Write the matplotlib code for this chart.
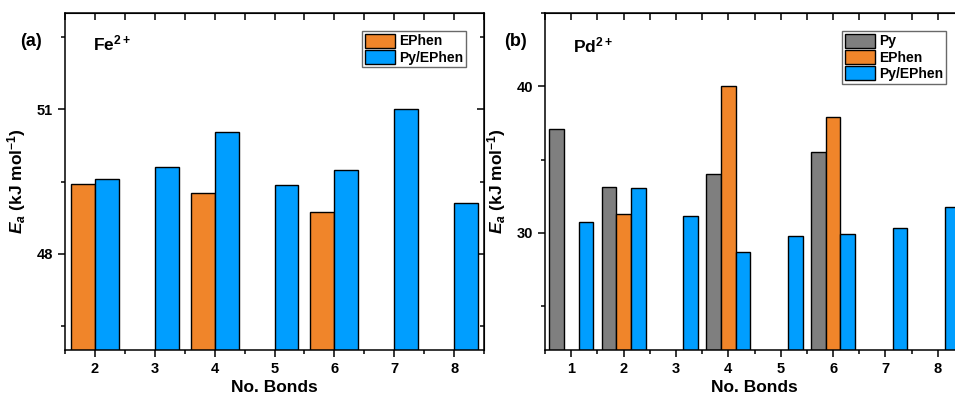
import numpy as np
import matplotlib.pyplot as plt
from matplotlib.ticker import MultipleLocator

plt.rcParams['font.family'] = 'Liberation Sans'
plt.rcParams['font.weight'] = 'bold'
plt.rcParams['axes.labelweight'] = 'bold'
plt.rcParams['mathtext.fontset'] = 'custom'
plt.rcParams['mathtext.rm'] = 'Liberation Sans:bold'
plt.rcParams['mathtext.it'] = 'Liberation Sans:italic:bold'
plt.rcParams['mathtext.bf'] = 'Liberation Sans:bold'

# dati pannello (a) Fe2+
bonds_fe = np.array([2, 3, 4, 5, 6, 7, 8])
ephen_fe = [49.45, np.nan, 49.26, np.nan, 48.87, np.nan, np.nan]
pyephen_fe = [49.56, 49.80, 50.52, 49.42, 49.74, 51.01, 49.06]

# dati pannello (b) Pd2+
bonds_pd = np.array([1, 2, 3, 4, 5, 6, 7, 8])
py_pd = [37.06, 33.1, np.nan, 34.03, np.nan, 35.52, np.nan, np.nan]
ephen_pd = [np.nan, 31.27, np.nan, 40.02, np.nan, 37.92, np.nan, np.nan]
pyephen_pd = [30.77, 33.05, 31.15, 28.69, 29.8, 29.93, 30.36, 31.76]

grigio = '#7f7f7f'
arancio = '#f0852a'
azzurro = '#009eff'

fig = plt.figure(figsize=(9.55, 3.98), dpi=100)
ax1 = fig.add_axes([65/955, 48/398, 419/955, 337/398])
ax2 = fig.add_axes([545/955, 48/398, 419/955, 337/398])


def stile(ax):
    for s in ax.spines.values():
        s.set_linewidth(1.1)
    ax.xaxis.set_major_locator(MultipleLocator(1))
    ax.xaxis.set_minor_locator(MultipleLocator(0.5))
    ax.tick_params(which='both', direction='out', width=1.1, labelsize=10.5)
    ax.tick_params(which='major', length=5)
    ax.tick_params(which='minor', length=3)
    # tacche interne sopra e a destra
    top = ax.secondary_xaxis('top')
    top.xaxis.set_major_locator(MultipleLocator(1))
    top.xaxis.set_minor_locator(MultipleLocator(0.5))
    top.tick_params(which='both', direction='in', labeltop=False, width=1.1)
    top.tick_params(which='major', length=5)
    top.tick_params(which='minor', length=5)
    right = ax.secondary_yaxis('right')
    right.yaxis.set_major_locator(ax.yaxis.get_major_locator())
    right.yaxis.set_minor_locator(ax.yaxis.get_minor_locator())
    right.tick_params(which='both', direction='in', labelright=False, width=1.1)
    right.tick_params(which='major', length=5)
    right.tick_params(which='minor', length=3)
    ax.set_xlabel('No. Bonds', fontsize=12.5, labelpad=3)
    ax.set_ylabel(r'$E_a$ (kJ mol$^{-1}$)', fontsize=12.5, labelpad=6)


# pannello (a)
w = 0.4
ax1.bar(bonds_fe - w/2, ephen_fe, w, color=arancio, edgecolor='black', linewidth=1, label='EPhen')
ax1.bar(bonds_fe + w/2, pyephen_fe, w, color=azzurro, edgecolor='black', linewidth=1, label='Py/EPhen')
ax1.set_xlim(1.5, 8.5)
ax1.set_ylim(46, 53)
ax1.yaxis.set_major_locator(MultipleLocator(3))
ax1.yaxis.set_minor_locator(MultipleLocator(1.5))
stile(ax1)
ax1.text(-0.08, 0.915, '(a)', transform=ax1.transAxes, fontsize=13, ha='center', va='center')
ax1.text(0.068, 0.91, 'Fe$^{2+}$', transform=ax1.transAxes, fontsize=12.5, ha='left', va='center')

# pannello (b)
w = 0.28
ax2.bar(bonds_pd - w, py_pd, w, color=grigio, edgecolor='black', linewidth=1, label='Py')
ax2.bar(bonds_pd, ephen_pd, w, color=arancio, edgecolor='black', linewidth=1, label='EPhen')
ax2.bar(bonds_pd + w, pyephen_pd, w, color=azzurro, edgecolor='black', linewidth=1, label='Py/EPhen')
ax2.set_xlim(0.5, 8.5)
ax2.set_ylim(22, 45)
ax2.yaxis.set_major_locator(MultipleLocator(10))
ax2.yaxis.set_minor_locator(MultipleLocator(5))
stile(ax2)
ax2.text(-0.07, 0.915, '(b)', transform=ax2.transAxes, fontsize=13, ha='center', va='center')
ax2.text(0.068, 0.905, 'Pd$^{2+}$', transform=ax2.transAxes, fontsize=12.5, ha='left', va='center')

for ax in (ax1, ax2):
    leg = ax.legend(loc='upper left', bbox_to_anchor=(0.709, 0.947), fontsize=10, frameon=True, fancybox=False,
                    handlelength=2.2, handleheight=1.2, labelspacing=0.1, handletextpad=0.25,
                    borderpad=0.2, borderaxespad=0, edgecolor='#444444')
    leg.get_frame().set_linewidth(1)

plt.savefig('out.png', dpi=100)
